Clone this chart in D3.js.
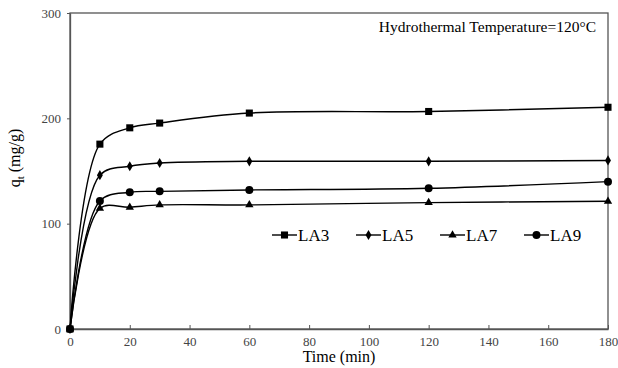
<!DOCTYPE html>
<html>
<head>
<meta charset="utf-8">
<script src="https://cdnjs.cloudflare.com/ajax/libs/d3/7.8.5/d3.min.js"></script>
<style>
  body { margin: 0; background: #fff; }
  svg text { font-family: "Liberation Serif", "Times New Roman", serif; }
</style>
</head>
<body>
<div id="chart"></div>
<script>
var times = [0, 10, 20, 30, 60, 120, 180];
var la3 = [0, 175.5, 191, 195.5, 205, 206.5, 210.5];
var la5 = [0, 146, 154.5, 157.6, 159.2, 159.2, 160];
var la7 = [0, 114.5, 115.6, 117.8, 117.8, 120, 121.3];
var la9 = [0, 121.6, 129.8, 130.7, 132, 133.6, 139.9];
var seriesNames = ["LA3", "LA5", "LA7", "LA9"];
var xTicks = [0, 20, 40, 60, 80, 100, 120, 140, 160, 180];
var yTicks = [0, 100, 200, 300];

var margin = {top: 13, right: 10, bottom: 39, left: 70},
    width = 618 - margin.left - margin.right,
    height = 368 - margin.top - margin.bottom;

var svg = d3.select("#chart")
    .append("svg")
        .attr("width", 618)
        .attr("height", 368)
        .attr("font-family", "Liberation Serif")
    .append("g")
        .attr("transform", "translate(" + margin.left + "," + margin.top + ")");

var x = d3.scaleLinear().domain([0, 180]).range([0, width]);
var y = d3.scaleLinear().domain([0, 300]).range([height, 0]);

// frame
svg.append("rect")
    .attr("width", width)
    .attr("height", height)
    .attr("fill", "none")
    .attr("stroke", "#555")
    .attr("stroke-width", 1.3);

var xAxis = svg.append("g")
    .attr("transform", "translate(0," + height + ")")
    .call(d3.axisBottom(x).tickValues(xTicks).tickSizeInner(-4).tickSizeOuter(0).tickPadding(8));
var yAxis = svg.append("g")
    .call(d3.axisLeft(y).tickValues(yTicks).tickSizeInner(3).tickSizeOuter(0).tickPadding(6));

[xAxis, yAxis].forEach(function(a) {
    a.attr("font-family", "Liberation Serif").attr("font-size", 13);
    a.select(".domain").attr("stroke", "#555").attr("stroke-width", 1.3);
    a.selectAll(".tick line").attr("stroke", "#555");
    a.selectAll("text").attr("fill", "#444");
});

// axis titles
svg.append("text")
    .attr("x", width / 2)
    .attr("y", height + 33)
    .attr("text-anchor", "middle")
    .style("font-size", "16px")
    .text("Time (min)");

var yl = svg.append("text")
    .attr("transform", "translate(" + (20 - margin.left) + "," + (158 - margin.top) + ") rotate(-90)")
    .attr("text-anchor", "middle")
    .style("font-size", "16px");
yl.append("tspan").text("q");
yl.append("tspan").attr("dy", 4).style("font-size", "11px").text("t");
yl.append("tspan").attr("dy", -4).text(" (mg/g)");

svg.append("text")
    .attr("x", 596 - margin.left)
    .attr("y", 32 - margin.top)
    .attr("text-anchor", "end")
    .style("font-size", "15.5px")
    .text("Hydrothermal Temperature=120\u00b0C");

var allSeries = [la3, la5, la7, la9];
var symbols = [
    d3.symbol().type(d3.symbolSquare).size(50),
    d3.symbol().type(d3.symbolDiamond).size(30),
    d3.symbol().type(d3.symbolTriangle).size(30),
    d3.symbol().type(d3.symbolCircle).size(50)
];

var line = d3.line()
    .x(function(d) { return x(d[0]); })
    .y(function(d) { return y(d[1]); })
    .curve(d3.curveCatmullRom.alpha(0.5));

allSeries.forEach(function(vals, i) {
    var pts = times.map(function(t, j) { return [t, vals[j]]; });
    svg.append("path")
        .datum(pts)
        .attr("d", line)
        .attr("fill", "none")
        .attr("stroke", "#000")
        .attr("stroke-width", 1.4);
    svg.selectAll(".m" + i)
        .data(pts)
        .enter()
        .append("path")
        .attr("class", "m" + i)
        .attr("d", symbols[i])
        .attr("transform", function(d) { return "translate(" + x(d[0]) + "," + y(d[1]) + ")"; })
        .attr("fill", "#000");
});

// legend
var legend = svg.append("g")
    .attr("transform", "translate(" + (272 - margin.left) + "," + (235 - margin.top) + ")");
seriesNames.forEach(function(name, i) {
    var g = legend.append("g").attr("transform", "translate(" + (i * 84) + ",0)");
    g.append("line")
        .attr("x1", 0).attr("x2", 25)
        .attr("stroke", "#000").attr("stroke-width", 1.4);
    g.append("path")
        .attr("d", symbols[i])
        .attr("transform", "translate(12.5,0)")
        .attr("fill", "#000");
    g.append("text")
        .attr("x", 26)
        .attr("y", 6)
        .style("font-size", "17px")
        .text(name);
});
</script>
</body>
</html>
